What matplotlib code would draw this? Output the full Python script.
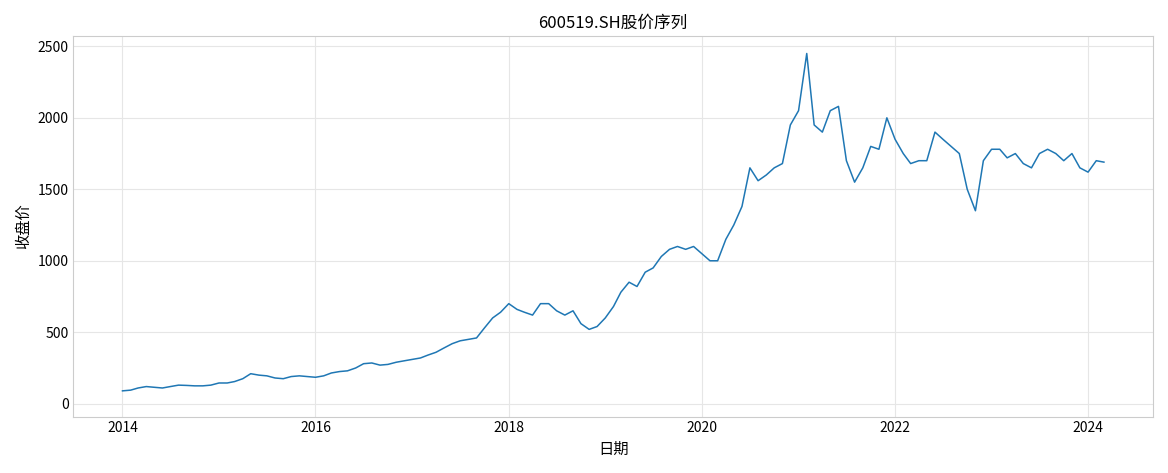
import pandas as pd
import matplotlib
matplotlib.use("Agg")
import matplotlib.pyplot as plt

plt.rcParams['font.family'] = ['Noto Sans CJK SC', 'DejaVu Sans']
plt.rcParams['axes.unicode_minus'] = False

# month-end close
close_2014 = [90, 95, 110, 120, 115, 110, 120, 130, 128, 125, 125, 130]
close_2015 = [145, 145, 155, 175, 210, 200, 195, 180, 175, 190, 195, 190]
close_2016 = [185, 195, 215, 225, 230, 250, 280, 285, 270, 275, 290, 300]
close_2017 = [310, 320, 340, 360, 390, 420, 440, 450, 460, 530, 600, 640]
close_2018 = [700, 660, 640, 620, 700, 700, 650, 620, 650, 560, 520, 540]
close_2019 = [600, 680, 780, 850, 820, 920, 950, 1030, 1080, 1100, 1080, 1100]
close_2020 = [1050, 1000, 1000, 1150, 1250, 1380, 1650, 1560, 1600, 1650, 1680, 1950]
close_2021 = [2050, 2450, 1950, 1900, 2050, 2080, 1700, 1550, 1650, 1800, 1780, 2000]
close_2022 = [1850, 1750, 1680, 1700, 1700, 1900, 1850, 1800, 1750, 1500, 1350, 1700]
close_2023 = [1780, 1780, 1720, 1750, 1680, 1650, 1750, 1780, 1750, 1700, 1750, 1650]
close_2024 = [1620, 1700, 1690]

closes = (close_2014 + close_2015 + close_2016 + close_2017 + close_2018 + close_2019
          + close_2020 + close_2021 + close_2022 + close_2023 + close_2024)
dates = pd.date_range("2014-01-01", periods=len(closes), freq="MS")

fig, ax = plt.subplots(figsize=(11.68, 4.73), dpi=100)
ax.plot(dates, closes, color="#1f77b4", linewidth=1.1)
ax.set_title("600519.SH股价序列", fontsize=12)
ax.set_xlabel("日期", fontsize=11)
ax.set_ylabel("收盘价", fontsize=11)
ax.grid(True, color="#e6e6e6", linewidth=0.8)
for s in ax.spines.values():
    s.set_color("#cccccc")
ax.tick_params(length=0, labelsize=10)
ax.set_ylim(-90, 2570)
fig.tight_layout()
fig.savefig("out.png")
